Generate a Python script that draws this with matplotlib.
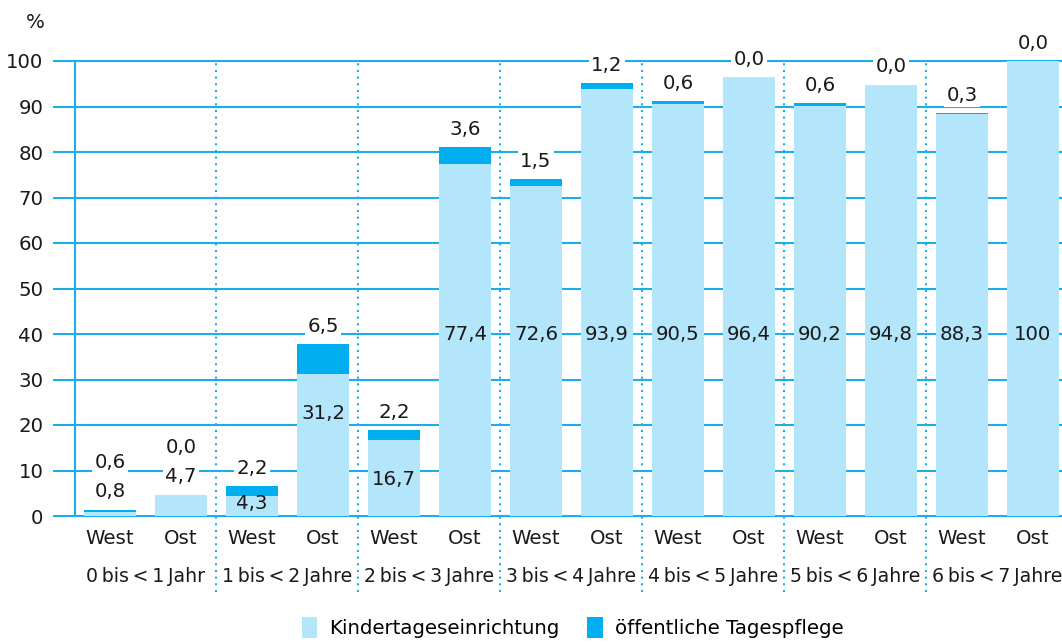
import matplotlib
matplotlib.use("Agg")
import matplotlib.pyplot as plt
from matplotlib.patches import Patch
import numpy as np

plt.rcParams['font.family'] = ['DejaVu Sans']

groups = ["0 bis < 1 Jahr", "1 bis < 2 Jahre", "2 bis < 3 Jahre", "3 bis < 4 Jahre",
          "4 bis < 5 Jahre", "5 bis < 6 Jahre", "6 bis < 7 Jahre"]
regions = ["West", "Ost"] * 7
kita = [0.8, 4.7, 4.3, 31.2, 16.7, 77.4, 72.6, 93.9, 90.5, 96.4, 90.2, 94.8, 88.3, 100.0]
pflege = [0.6, 0.0, 2.2, 6.5, 2.2, 3.6, 1.5, 1.2, 0.6, 0.0, 0.6, 0.0, 0.3, 0.0]
yticks = [0, 10, 20, 30, 40, 50, 60, 70, 80, 90, 100]

LIGHT = "#b3e6fb"
DARK = "#00aeef"
GRID = "#1aaeea"
TXT = "#1a1a1a"
FS = 14.2

def fmt(v):
    if v == 100:
        return "100"
    return f"{v:.1f}".replace(".", ",")

fig = plt.figure(figsize=(10.62, 6.42), dpi=100)
ax = fig.add_axes([75/1062, 1-516/642, 1-75/1062, (516-61)/642])

x = np.arange(len(kita))
w = 0.73
ax.bar(x, kita, width=w, color=LIGHT, zorder=3)
ax.bar(x, pflege, width=w, bottom=kita, color=DARK, zorder=3)

ax.set_xlim(-0.493, 13.41)
ax.set_ylim(0, 100)

# grid
for yv in yticks:
    ax.axhline(yv, color=GRID, lw=1.5, zorder=1, clip_on=False)
for s in ["top", "right", "bottom"]:
    ax.spines[s].set_visible(False)
ax.spines["left"].set_color(GRID)
ax.spines["left"].set_linewidth(1.5)
ax.spines["left"].set_zorder(2)
ax.set_yticks(yticks)
ax.tick_params(axis="y", length=15.8, width=1.5, color=GRID, pad=7, labelsize=FS, labelcolor=TXT)
ax.set_xticks(x)
ax.set_xticklabels(regions)
ax.tick_params(axis="x", length=0, pad=9, labelsize=FS, labelcolor=TXT)

# group separators
for g in range(1, 7):
    ax.vlines(2*g - 0.5, -16.8, 100, colors=GRID, linestyles=(0, (1, 2.2)), lw=1.5,
              clip_on=False, zorder=2)

# group labels (narrow spaces as in the original typesetting)
for g, name in enumerate(groups):
    ax.text(2*g + 0.5, -13.4, name.replace(" ", "\u2009"), ha="center", va="center",
            fontsize=13.6, color=TXT, clip_on=False)

# "%" label
fig.text(35/1062, 1-22/642, "%", ha="center", va="center", fontsize=FS, color=TXT)

box = dict(facecolor="white", edgecolor="none", pad=1.5)
for i, (k, t) in enumerate(zip(kita, pflege)):
    tot = k + t
    if k >= 10:
        ax.text(i, min(k - 8.6, 40), fmt(k), ha="center", va="center", fontsize=FS,
                color=TXT, zorder=5)
        ax.text(i, tot + 3.9, fmt(t), ha="center", va="center", fontsize=FS,
                color=TXT, zorder=2.5, bbox=box, clip_on=False)
    elif t >= 1:
        ax.text(i, k * 0.62, fmt(k), ha="center", va="center", fontsize=FS,
                color=TXT, zorder=5)
        ax.text(i, tot + 3.9, fmt(t), ha="center", va="center", fontsize=FS,
                color=TXT, zorder=2.5, bbox=box, clip_on=False)
    else:
        ax.text(i, tot + 3.9, fmt(k), ha="center", va="center", fontsize=FS,
                color=TXT, zorder=2.5, bbox=box, clip_on=False)
        ax.text(i, tot + 10.4, fmt(t), ha="center", va="center", fontsize=FS,
                color=TXT, zorder=2.5, bbox=box, clip_on=False)

handles = [Patch(facecolor=LIGHT, edgecolor="none", label="Kindertageseinrichtung"),
           Patch(facecolor=DARK, edgecolor="none", label="öffentliche Tagespflege")]
fig.legend(handles=handles, loc="center", bbox_to_anchor=(0.539, 0.022), ncol=2,
           frameon=False, fontsize=FS, handlelength=0.8, handleheight=1.2,
           handletextpad=0.6, columnspacing=1.4)

fig.savefig("out.png", dpi=100)
